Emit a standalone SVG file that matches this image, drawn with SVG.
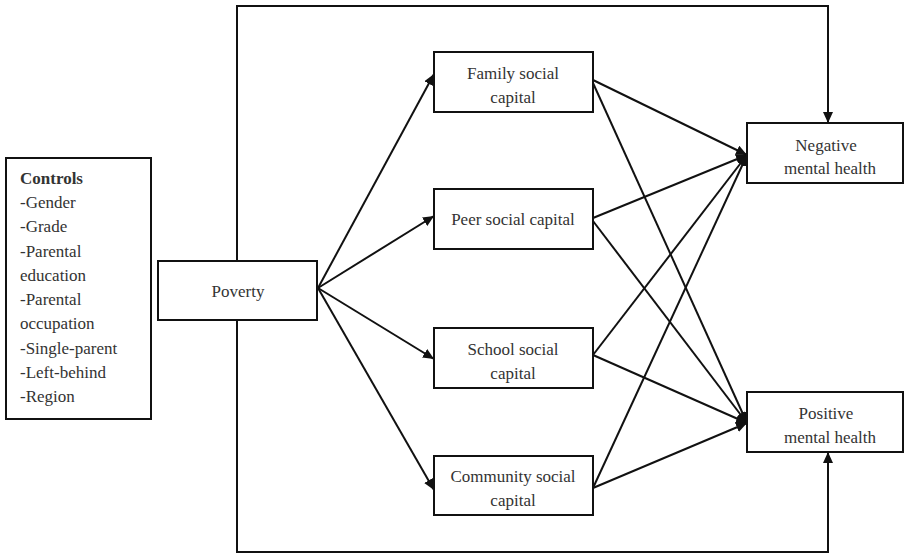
<svg xmlns="http://www.w3.org/2000/svg" width="904" height="555" viewBox="0 0 904 555">
<defs>
<marker id="ah" markerUnits="userSpaceOnUse" markerWidth="12" markerHeight="10" refX="11" refY="5" orient="auto">
<path d="M0,0 L11,5 L0,10 Z" fill="#111"/>
</marker>
<style>
.box{fill:#fff;stroke:#111;stroke-width:2}
.t{font-family:"Liberation Serif","Times New Roman",serif;font-size:17px;fill:#333}
.c{text-anchor:middle}
.ln{fill:none;stroke:#111;stroke-width:2;marker-end:url(#ah)}
</style>
</defs>
<rect width="904" height="555" fill="#fff"/>
<g id="connectors">
<path class="ln" d="M237,261 V6 H828 V123"/>
<path class="ln" d="M237,320 V552 H828 V452"/>
<path class="ln" d="M318,288 L434,74"/>
<path class="ln" d="M318,288 L434,216"/>
<path class="ln" d="M318,288 L434,359"/>
<path class="ln" d="M318,288 L434,490"/>
<path class="ln" d="M593,80 L747,155"/>
<path class="ln" d="M593,83 L747,423"/>
<path class="ln" d="M593,218 L747,155"/>
<path class="ln" d="M593,221 L747,423"/>
<path class="ln" d="M593,355 L747,155"/>
<path class="ln" d="M593,355 L747,423"/>
<path class="ln" d="M593,488 L747,155"/>
<path class="ln" d="M593,488 L747,423"/>
</g>
<g id="controls">
<rect class="box" x="6" y="158" width="145" height="261"/>
<text class="t" x="20" y="184" font-weight="bold" fill="#111">Controls</text>
<text class="t" x="20" y="208">-Gender</text>
<text class="t" x="20" y="232">-Grade</text>
<text class="t" x="20" y="257">-Parental</text>
<text class="t" x="20" y="281">education</text>
<text class="t" x="20" y="305">-Parental</text>
<text class="t" x="20" y="329">occupation</text>
<text class="t" x="20" y="354">-Single-parent</text>
<text class="t" x="20" y="378">-Left-behind</text>
<text class="t" x="20" y="402">-Region</text>
</g>
<g id="poverty">
<rect class="box" x="158" y="261" width="159" height="59"/>
<text class="t c" x="238" y="297" font-size="16">Poverty</text>
</g>
<g id="family">
<rect class="box" x="434" y="52" width="159" height="60"/>
<text class="t c" x="513" y="79">Family social</text>
<text class="t c" x="513" y="103">capital</text>
</g>
<g id="peer">
<rect class="box" x="434" y="189" width="159" height="60"/>
<text class="t c" x="513" y="225">Peer social capital</text>
</g>
<g id="school">
<rect class="box" x="434" y="328" width="159" height="60"/>
<text class="t c" x="513" y="355">School social</text>
<text class="t c" x="513" y="379">capital</text>
</g>
<g id="community">
<rect class="box" x="434" y="456" width="159" height="59"/>
<text class="t c" x="513" y="482">Community social</text>
<text class="t c" x="513" y="506">capital</text>
</g>
<g id="negative">
<rect class="box" x="747" y="123" width="156" height="60"/>
<text class="t c" x="826" y="151">Negative</text>
<text class="t c" x="830" y="174">mental health</text>
</g>
<g id="positive">
<rect class="box" x="747" y="392" width="156" height="60"/>
<text class="t c" x="826" y="419">Positive</text>
<text class="t c" x="830" y="443">mental health</text>
</g>
</svg>
